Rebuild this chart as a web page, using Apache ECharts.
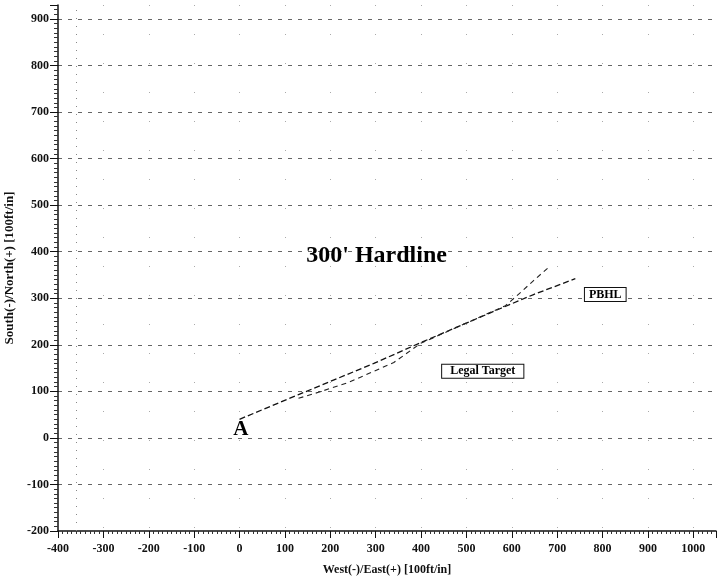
<!DOCTYPE html>
<html>
<head>
<meta charset="utf-8">
<script src="https://cdn.jsdelivr.net/npm/echarts@6/dist/echarts.min.js"></script>
<style>html,body{margin:0;padding:0;background:#fff}#c{width:720px;height:577px}</style>
</head>
<body>
<div id="c"></div>
<script>
// Well path traces (East ft/100, North ft/100)
const pathAX = [0, 130, 296, 400, 575, 648, 740];
const pathAY = [40, 93, 160, 205, 278, 308, 342];
const pathBX = [130, 174, 240, 296, 340, 399, 586, 619, 648, 683];
const pathBY = [85, 98, 119, 143, 162, 203, 284, 312, 338, 368];
// Annotations
const noteText = ["300' Hardline", "PBHL", "Legal Target", "A"];
const noteX = [302, 806, 536, 3];
const noteY = [391, 308, 143, 17];
const leaseLineX = -360;
const xTicks = [-400, -300, -200, -100, 0, 100, 200, 300, 400, 500, 600, 700, 800, 900, 1000];
const yTicks = [-200, -100, 0, 100, 200, 300, 400, 500, 600, 700, 800, 900];

const serif = 'Liberation Serif';
const chart = echarts.init(document.getElementById('c'));

const noteStyles = [
  {fontSize: 24, fontWeight: 'bold', fontFamily: serif, color: '#000'},
  {fontSize: 12, fontWeight: 'bold', fontFamily: serif, color: '#000', borderColor: '#111', borderWidth: 1, padding: [1, 4, 0, 4], backgroundColor: '#fff'},
  {fontSize: 12, fontWeight: 'bold', fontFamily: serif, color: '#000', borderColor: '#111', borderWidth: 1, padding: [1, 8, 0, 8], backgroundColor: '#fff'},
  {fontSize: 21, fontWeight: 'bold', fontFamily: serif, color: '#000'}
];

const notes = noteText.map((t, i) => ({
  value: [noteX[i], noteY[i]],
  label: Object.assign({show: true, formatter: t, position: 'inside', textBorderWidth: 0}, noteStyles[i])
}));

chart.setOption({
  animation: false,
  backgroundColor: '#fff',
  grid: {left: 58, right: 4, top: 5, bottom: 46, containLabel: false, outerBoundsMode: 'none'},
  xAxis: {
    type: 'value', min: -400, max: 1050, interval: 100,
    name: 'West(-)/East(+) [100ft/in]', nameLocation: 'middle', nameGap: 33,
    nameTextStyle: {fontFamily: serif, fontWeight: 'bold', fontSize: 12, color: '#111'},
    axisLine: {show: true, onZero: false, lineStyle: {color: '#111', width: 1.5}},
    axisTick: {show: true, length: 7, lineStyle: {color: '#111'}},
    minorTick: {show: true, splitNumber: 10, length: 3, lineStyle: {color: '#333'}},
    axisLabel: {fontFamily: serif, fontWeight: 'bold', fontSize: 12, color: '#111', margin: 12,
      formatter: v => (xTicks.indexOf(v) >= 0 ? String(v) : '')},
    splitLine: {show: true, showMinLine: false, showMaxLine: false, lineStyle: {color: '#aaa', type: [1, 28], width: 1}}
  },
  yAxis: {
    type: 'value', min: -200, max: 930, interval: 100,
    name: 'South(-)/North(+) [100ft/in]', nameLocation: 'middle', nameGap: 39,
    nameTextStyle: {fontFamily: serif, fontWeight: 'bold', fontSize: 13, color: '#111'},
    axisLine: {show: true, onZero: false, lineStyle: {color: '#111', width: 1.5}},
    axisTick: {show: true, length: 8, lineStyle: {color: '#111'}},
    minorTick: {show: true, splitNumber: 10, length: 4, lineStyle: {color: '#333'}},
    axisLabel: {fontFamily: serif, fontWeight: 'bold', fontSize: 12, color: '#111', margin: 9,
      formatter: v => (yTicks.indexOf(v) >= 0 ? String(v) : '')},
    splitLine: {show: true, showMinLine: false, showMaxLine: false, lineStyle: {color: '#666', type: [4, 6], width: 1}}
  },
  series: [
    {
      type: 'line', data: pathAX.map((x, i) => [x, pathAY[i]]), symbol: 'none',
      lineStyle: {color: '#111', width: 1.3, type: [6, 3]}, z: 3,
      markLine: {
        silent: true, symbol: 'none', label: {show: false},
        lineStyle: {color: '#888', type: [1, 7], width: 1},
        data: [{xAxis: leaseLineX}]
      }
    },
    {
      type: 'line', data: pathBX.map((x, i) => [x, pathBY[i]]), symbol: 'none',
      lineStyle: {color: '#222', width: 1.1, type: [5, 4]}, z: 3
    },
    {
      type: 'scatter', data: notes, symbolSize: 0, z: 5,
      itemStyle: {opacity: 1}
    }
  ]
});
</script>
</body>
</html>
